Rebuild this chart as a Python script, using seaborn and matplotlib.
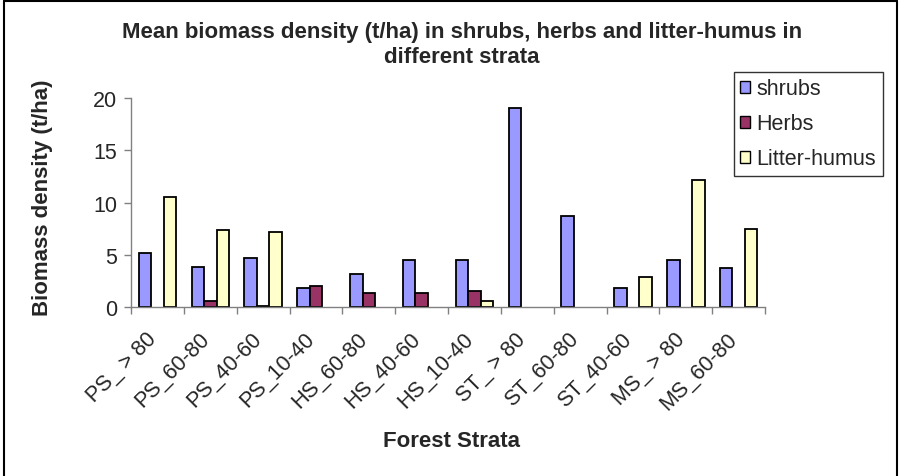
import numpy as np
import pandas as pd
import matplotlib
matplotlib.use("Agg")
import matplotlib.pyplot as plt
import matplotlib.transforms as mtransforms
import seaborn as sns
from matplotlib.patches import Patch
from matplotlib.ticker import FixedLocator

categories = ["PS_ > 80", "PS_60-80", "PS_40-60", "PS_10-40", "HS_60-80", "HS_40-60",
              "HS_10-40", "ST_ > 80", "ST_60-80", "ST_40-60", "MS_ > 80", "MS_60-80"]
shrubs = [5.2, 3.85, 4.7, 1.85, 3.2, 4.5, 4.5, 19.0, 8.7, 1.85, 4.5, 3.7]
herbs = [0.0, 0.55, 0.15, 2.05, 1.35, 1.35, 1.55, 0.0, 0.0, 0.0, 0.0, 0.0]
litter = [10.5, 7.35, 7.2, 0.0, 0.0, 0.0, 0.55, 0.0, 0.0, 2.85, 12.2, 7.5]
series_names = ["shrubs", "Herbs", "Litter-humus"]
colors = ["#9999FF", "#993366", "#FFFFCC"]

df = pd.DataFrame({
    "stratum": categories * 3,
    "value": shrubs + herbs + litter,
    "series": [series_names[0]] * 12 + [series_names[1]] * 12 + [series_names[2]] * 12,
})

sns.set_style("white")
plt.rcParams["font.family"] = ["Liberation Sans", "DejaVu Sans"]

fig = plt.figure(figsize=(9, 4.77), dpi=100)
ax = fig.add_axes([0.1456, 0.354, 0.7044, 0.4386])

sns.barplot(data=df, x="stratum", y="value", hue="series", order=categories,
            hue_order=series_names, palette=colors, width=0.71, dodge=True,
            edgecolor="black", linewidth=1.3, saturation=1, legend=False, ax=ax, errorbar=None)

# hide outlines of empty (zero-height) bars
for p in ax.patches:
    if abs(p.get_height()) < 1e-9:
        p.set_linewidth(0)

ax.set_ylim(0, 20)
ax.set_xlim(-0.5, len(categories) - 0.5)
ax.set_yticks([0, 5, 10, 15, 20])
ax.tick_params(axis="y", labelsize=15.5, length=5, width=1, color="#808080", direction="out", pad=5, left=True)
ax.xaxis.set_minor_locator(FixedLocator(np.arange(-0.5, len(categories), 1.0)))
ax.tick_params(axis="x", which="major", length=0, labelsize=15.5, pad=15)
ax.tick_params(axis="x", which="minor", length=5, width=1, color="#808080", direction="out", bottom=True)
offset = mtransforms.ScaledTranslation(-12 / 100, 0, fig.dpi_scale_trans)
for lbl in ax.get_xticklabels():
    lbl.set_rotation(45)
    lbl.set_ha("right")
    lbl.set_va("top")
    lbl.set_rotation_mode("anchor")
    lbl.set_transform(lbl.get_transform() + offset)

for s in ["top", "right"]:
    ax.spines[s].set_visible(False)
for s in ["left", "bottom"]:
    ax.spines[s].set_color("#808080")
    ax.spines[s].set_linewidth(1)

ax.set_xlabel("Forest Strata", fontsize=16, fontweight="bold")
ax.xaxis.set_label_coords(0.505, -0.585)
ax.set_ylabel("Biomass density (t/ha)", fontsize=16, fontweight="bold")
ax.yaxis.set_label_coords(-0.123, 0.53)

fig.text(0.513, 0.905, "Mean biomass density (t/ha) in shrubs, herbs and litter-humus in\ndifferent strata",
         ha="center", va="center", fontsize=16, fontweight="bold", linespacing=1.25)

handles = [Patch(facecolor=c, edgecolor="black", linewidth=1) for c in colors]
leg = fig.legend(handles, series_names, loc="upper left", bbox_to_anchor=(0.8156, 0.847),
                 frameon=True, fancybox=False, shadow=False, fontsize=15.5,
                 handlelength=0.45, handleheight=0.45, handletextpad=0.3,
                 labelspacing=0.65, borderpad=0.3, borderaxespad=0)
leg.get_frame().set_edgecolor("black")
leg.get_frame().set_linewidth(1)

# outer chart border
fig.add_artist(plt.Line2D([0.004, 0.004], [0.0, 0.995], transform=fig.transFigure, color="black", lw=1.5))
fig.add_artist(plt.Line2D([0.004, 0.997], [0.995, 0.995], transform=fig.transFigure, color="black", lw=1.5))
fig.add_artist(plt.Line2D([0.997, 0.997], [0.0, 0.995], transform=fig.transFigure, color="black", lw=1.5))

fig.savefig("out.png", dpi=100)
